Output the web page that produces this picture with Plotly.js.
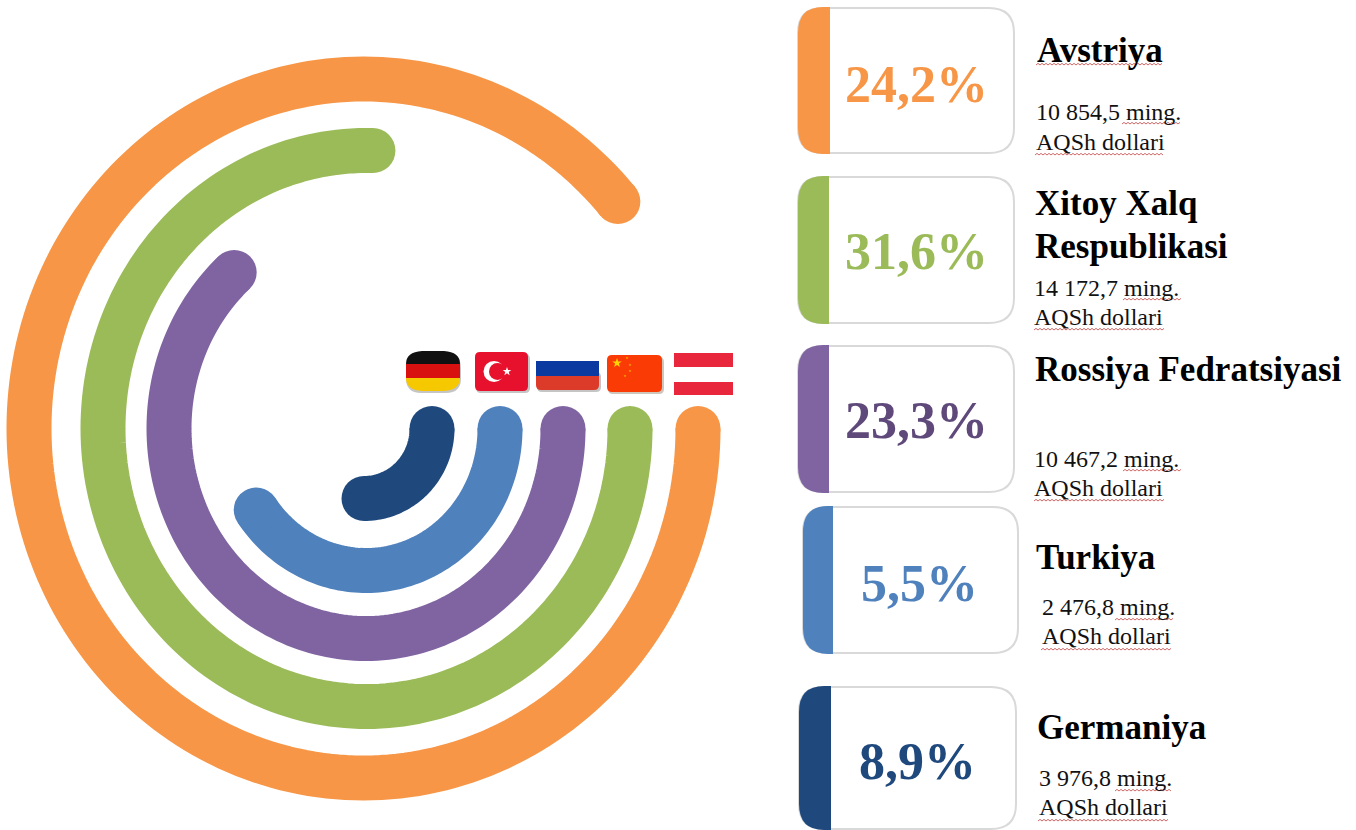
<!DOCTYPE html>
<html><head><meta charset="utf-8">
<script src="https://cdn.plot.ly/plotly-3.0.1.min.js"></script>
<style>html,body{margin:0;padding:0;background:#fff;overflow:hidden}#c{width:1356px;height:830px}</style>
</head><body><div id="c"></div>
<script>
// ---- data ----
const countries = ['Avstriya','Xitoy Xalq<br>Respublikasi','Rossiya Fedratsiyasi','Turkiya','Germaniya'];
const sharePct  = ['24,2%','31,6%','23,3%','5,5%','8,9%'];
const amounts   = ['10 854,5','14 172,7','10 467,2','2 476,8','3 976,8'];
const unitWord  = 'ming.';
const unitLine2 = 'AQSh dollari';
const arcSweepDeg = [319.5, 271.4, 228, 145, 90];   // drawn length of each ring, clockwise from the flag row
const colors    = ['#F79646','#9BBB59','#8064A2','#4F81BD','#1F497D'];
const pctColors = ['#F79646','#9BBB59','#5F497A','#4F81BD','#1F497D'];

// ---- geometry ----
const CY = 428.5, BAND = 45;
const ringCx = [363.5, 366.5, 366, 366, 364];
const ringRx = [334.5, 263.5, 197, 134, 68];
const ringRy = [349.5, 278, 210, 142, 70];
const cards = [
 {l:798,r:1014,t:8,b:153,s:830,px:916,py:84},
 {l:798,r:1014,t:177,b:323,s:829,px:916,py:251},
 {l:798,r:1014,t:346,b:492,s:829,px:916,py:420},
 {l:803,r:1018,t:507,b:653,s:833,px:919,py:583},
 {l:799,r:1016,t:687,b:829,s:831,px:917,py:761}
];
const nameRows = [[[1036,50]],[[1034,203],[1034,246]],[[1034,369]],[[1035,557]],[[1036,727]]];
const detailRows = [[1035,112,142],[1033,288,317],[1033,459,488],[1041,607,636],[1038,778,807]];
const SERIF = '"Liberation Serif","Times New Roman",serif';

// ---- arcs ----
const traces = arcSweepDeg.map((sw,i)=>{
  const xs=[],ys=[],sz=[]; const n=Math.ceil(sw/1.5);
  for(let k=0;k<=n;k++){
    const a=(sw*k/n)*Math.PI/180;
    xs.push(ringCx[i]+ringRx[i]*Math.cos(a)); ys.push(CY+ringRy[i]*Math.sin(a));
    sz.push(k===0||k===n?BAND:0);
  }
  return {type:'scatter',mode:'lines+markers',x:xs,y:ys,hoverinfo:'skip',showlegend:false,
    line:{color:colors[i],width:BAND,shape:'linear',simplify:false},
    marker:{color:colors[i],size:sz,opacity:1,line:{width:0}}};
});

// ---- shapes ----
const shapes=[];
const rr=(l,t,r,b,a)=>`M${l+a},${t}L${r-a},${t}Q${r},${t} ${r},${t+a}L${r},${b-a}Q${r},${b} ${r-a},${b}L${l+a},${b}Q${l},${b} ${l},${b-a}L${l},${t+a}Q${l},${t} ${l+a},${t}Z`;
const add=(path,fill,line,w)=>shapes.push({type:'path',xref:'x',yref:'y',path,fillcolor:fill||'rgba(0,0,0,0)',line:{color:line||'rgba(0,0,0,0)',width:w||0},layer:'below'});
cards.forEach((c,i)=>{
  add(rr(c.l,c.t,c.r,c.b,25),'#ffffff','#d9d9d9',2);
  const a=25;
  add(`M${c.s},${c.t-1}L${c.l+a},${c.t-1}Q${c.l},${c.t-1} ${c.l},${c.t+a}L${c.l},${c.b-a}Q${c.l},${c.b+1} ${c.l+a},${c.b+1}L${c.s},${c.b+1}Z`,colors[i]);
});
const rect=(l,t,r,b,f)=>add(`M${l},${t}L${r},${t}L${r},${b}L${l},${b}Z`,f);
const star=(x,y,R,f)=>{let p='';for(let k=0;k<10;k++){const r=k%2?R*0.4:R,a=-Math.PI/2+k*Math.PI/5;p+=(k?'L':'M')+(x+r*Math.cos(a)).toFixed(2)+','+(y+r*Math.sin(a)).toFixed(2);}add(p+'Z',f);};
const disc=(x,y,r,f)=>shapes.push({type:'circle',xref:'x',yref:'y',x0:x-r,x1:x+r,y0:y-r,y1:y+r,fillcolor:f,line:{width:0},layer:'below'});

// Germany
add(rr(406,353,461,393,15),'rgba(90,90,90,0.35)');
add(`M422,351L444,351Q460,352 460,364L406,364Q406,352 422,351Z`,'#111111');
rect(406,364,460,378,'#d8100f');
add(`M406,378L460,378Q460,390 444,391L422,391Q406,390 406,378Z`,'#f5c800');
// Turkey
add(rr(476,354,530,393,5),'rgba(90,90,90,0.35)');
add(rr(475,352,528,391,5),'#e8112d');
disc(494,371.5,10.5,'#ffffff'); disc(497.5,371.5,8.5,'#e8112d'); star(507,371.5,4.5,'#ffffff');
// Russia
add(rr(537,372,601,392,5),'rgba(90,90,90,0.35)');
rect(536,347,599,361,'#ffffff');
rect(536,361,599,376,'#0a3aa0');
add(`M536,376L599,376L599,385Q599,390 594,390L541,390Q536,390 536,385Z`,'#dd3b2a');
// China
add(rr(608,357,664,394,5),'rgba(120,90,60,0.35)');
add(rr(607,355,662,392,5),'#fb3b05');
star(617,363,5,'#ffd400'); star(627,358,1.5,'#ffb000'); star(630,365,1.5,'#ffb000'); star(630,371,1.5,'#ffb000'); star(625,376,1.5,'#ffb000');
// Austria
rect(674,353,733,367,'#e8263c');
rect(674,382,733,395,'#e8263c');

// spell-check underlines
const squiggle=(x0,x1,y)=>{let p=`M${x0},${y}`;let up=true;for(let x=x0+2;x<x1;x+=2){p+=`L${x},${y+(up?-1.6:0)}`;up=!up;}shapes.push({type:'path',xref:'x',yref:'y',path:p,line:{color:'#c2413f',width:0.8},layer:'above'});};
squiggle(1036,1163,65);
[[1122,1181,124,1035,1165,155],[1123,1182,300,1034,1166,330],[1123,1182,471,1034,1166,501],[1115,1175,620,1041,1172,650],[1115,1173,791,1038,1170,821]]
 .forEach(q=>{squiggle(q[0],q[1],q[2]);squiggle(q[3],q[4],q[5]);});

// ---- text ----
const ann=[];
const T=(text,x,y,size,color,bold,anchor)=>ann.push({xref:'x',yref:'y',x,y,text:bold?`<b>${text}</b>`:text,showarrow:false,xanchor:anchor||'left',yanchor:'middle',font:{family:SERIF,size,color},borderpad:0});
countries.forEach((name,i)=>{
  const parts=name.split('<br>');
  parts.forEach((p,j)=>T(p,nameRows[i][j][0],nameRows[i][j][1],35,'#000000',true));
  T(sharePct[i],cards[i].px,cards[i].py,52,pctColors[i],true,'center');
  const d=detailRows[i];
  T(amounts[i]+' '+unitWord,d[0],d[1],24,'#111111',false);
  T(unitLine2,d[0],d[2],24,'#111111',false);
});

const ax={range:[0,1356],domain:[0,1],visible:false,fixedrange:true};
Plotly.newPlot('c',traces,{
  width:1356,height:830,margin:{l:0,r:0,t:0,b:0},paper_bgcolor:'#fff',plot_bgcolor:'#fff',
  xaxis:ax,yaxis:{range:[830,0],domain:[0,1],visible:false,fixedrange:true},
  shapes,annotations:ann,showlegend:false,hovermode:false
},{displayModeBar:false,staticPlot:true});
</script></body></html>
